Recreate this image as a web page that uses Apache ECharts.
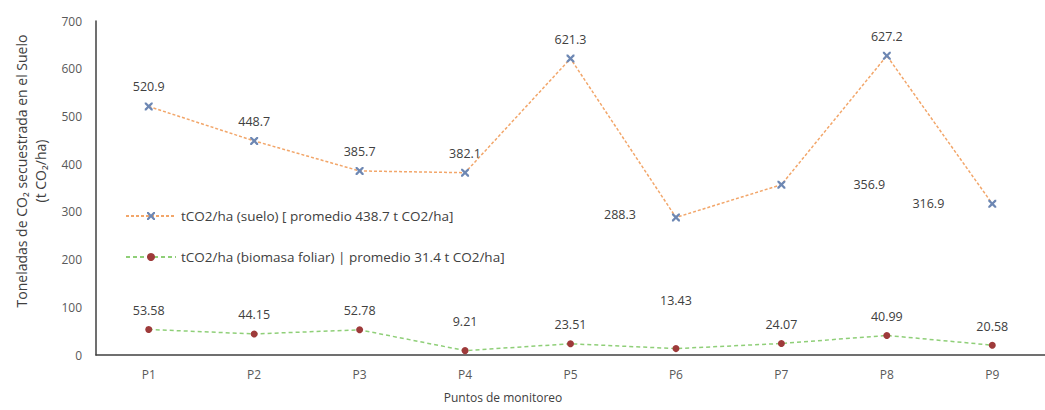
<!DOCTYPE html>
<html>
<head>
  <meta charset="utf-8">
  <title>CO2 secuestrado</title>
  <script src="https://cdn.jsdelivr.net/npm/echarts@6/dist/echarts.min.js"></script>
  <style>
    html, body { margin: 0; padding: 0; background: #fff; }
    #main { width: 1045px; height: 410px; }
  </style>
</head>
<body>
<div id="main"></div>
<script>
// datos
var puntos = ['P1', 'P2', 'P3', 'P4', 'P5', 'P6', 'P7', 'P8', 'P9'];
var suelo = [520.9, 448.7, 385.7, 382.1, 621.3, 288.3, 356.9, 627.2, 316.9];
var biomasa = [53.58, 44.15, 52.78, 9.21, 23.51, 13.43, 24.07, 40.99, 20.58];
var ejeY = [0, 100, 200, 300, 400, 500, 600, 700];

var nombreSuelo = 'tCO2/ha (suelo) [ promedio 438.7 t CO2/ha]';
var nombreBiomasa = 'tCO2/ha (biomasa foliar) | promedio 31.4 t CO2/ha]';

var fuente = '"Open Sans", "Liberation Sans", sans-serif';
var gris = '#404040';

// etiquetas que Excel dejo fuera de su sitio
function etiquetasSuelo() {
  return suelo.map(function (v, i) {
    var d = { value: v };
    if (i === 5) d.label = { position: 'left', distance: 36, offset: [0, -3] };
    if (i === 6) d.label = { position: 'right', distance: 68, offset: [0, 0] };
    if (i === 8) d.label = { position: 'left', distance: 44, offset: [0, 0] };
    return d;
  });
}
function etiquetasBiomasa() {
  return biomasa.map(function (v, i) {
    var d = { value: v };
    if (i === 3) d.label = { distance: 19 };
    if (i === 5) d.label = { distance: 38 };
    return d;
  });
}

var myChart = echarts.init(document.getElementById('main'), null, { renderer: 'svg' });

var option = {
  backgroundColor: '#fff',
  textStyle: { fontFamily: fuente },
  grid: { left: 96, right: -14, top: 21, bottom: 55 },
  legend: {
    orient: 'vertical',
    left: 120,
    top: 204,
    itemGap: 27,
    itemWidth: 50,
    itemHeight: 10,
    textStyle: { fontFamily: fuente, fontSize: 13.5, color: gris },
    data: [nombreSuelo, nombreBiomasa]
  },
  xAxis: {
    type: 'category',
    data: puntos,
    boundaryGap: true,
    axisLine: { lineStyle: { color: '#404040', width: 1.5 } },
    axisTick: { show: false },
    axisLabel: { color: '#595959', fontSize: 12, margin: 13 },
    name: 'Puntos de monitoreo',
    nameLocation: 'middle',
    nameGap: 36,
    nameTextStyle: { color: gris, fontSize: 12, padding: [0, 135, 0, 0] }
  },
  yAxis: {
    type: 'value',
    min: ejeY[0],
    max: ejeY[ejeY.length - 1],
    interval: 100,
    splitLine: { show: false },
    axisLine: { show: true, lineStyle: { color: '#404040', width: 1.5 } },
    axisTick: { show: false },
    axisLabel: { color: '#595959', fontSize: 12, margin: 14 }
  },
  graphic: [{
    type: 'text',
    x: 31,
    y: 171,
    rotation: Math.PI / 2,
    style: {
      text: 'Toneladas de CO\u2082 secuestrada en el Suelo\n(t CO\u2082/ha)',
      fontSize: 14,
      fontFamily: fuente,
      fill: gris,
      align: 'center',
      verticalAlign: 'middle',
      lineHeight: 19
    }
  }],
  series: [
    {
      name: nombreSuelo,
      type: 'line',
      data: etiquetasSuelo(),
      symbol: 'path://M0,0 L2,0 L5,3 L8,0 L10,0 L10,2 L7,5 L10,8 L10,10 L8,10 L5,7 L2,10 L0,10 L0,8 L3,5 L0,2 Z',
      symbolSize: 8,
      itemStyle: { color: '#6d87b3' },
      lineStyle: { color: '#f2a66a', width: 1.5, type: [3, 2] },
      label: {
        show: true, position: 'top', distance: 9,
        color: gris, fontSize: 12.5, formatter: function (p) { return p.value.toFixed(1); }
      },
      z: 3
    },
    {
      name: nombreBiomasa,
      type: 'line',
      data: etiquetasBiomasa(),
      symbol: 'circle',
      symbolSize: 7,
      itemStyle: { color: '#9e3a3a' },
      lineStyle: { color: '#8fcf78', width: 1.5, type: [4, 3] },
      label: {
        show: true, position: 'top', distance: 9,
        color: gris, fontSize: 12.5, formatter: function (p) { return p.value.toFixed(2); }
      },
      z: 3
    }
  ]
};

myChart.setOption(option);
</script>
</body>
</html>
